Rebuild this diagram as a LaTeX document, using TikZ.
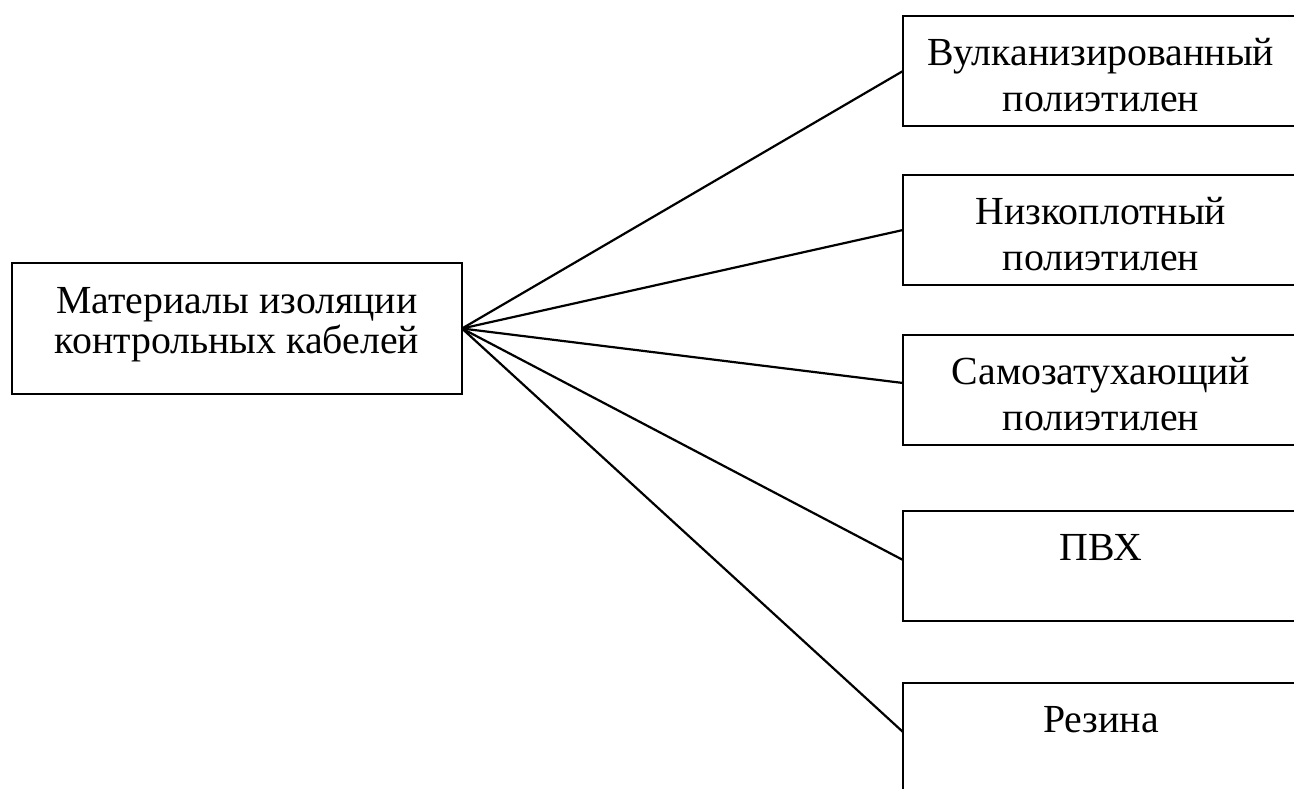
\documentclass[tikz,border=0pt]{standalone}
\usepackage{fontspec}
\setmainfont{Liberation Serif}
\newcommand{\mybox}[6]{\parbox[c][#2pt][t]{#1pt}{\centering\fontsize{39.8}{#4}\selectfont\rule{0pt}{#3pt}#5\\\strut #6}}
\begin{document}
\begin{tikzpicture}[x=1pt,y=-1pt,
  catbox/.style={draw=black,line width=2.6pt,inner sep=0pt,outer sep=0pt,anchor=north west},
  conn/.style={draw=black,line width=2.2pt}]
\useasboundingbox (0,0) rectangle (1294,788);
\clip (0,0) rectangle (1294,788);
\fill[white] (0,0) rectangle (1294,788);
\node[catbox] (main) at (12,263) {\mybox{450}{131}{50}{40}{Материалы изоляции}{контрольных кабелей}};
\node[catbox] (b1) at (903,16) {\mybox{396}{110}{49}{46}{Вулканизированный}{полиэтилен}};
\node[catbox] (b2) at (903,175) {\mybox{396}{110}{49}{46}{Низкоплотный}{полиэтилен}};
\node[catbox] (b3) at (903,335) {\mybox{396}{110}{49}{46}{Самозатухающий}{полиэтилен}};
\node[catbox] (b4) at (903,511) {\mybox{396}{110}{49}{46}{ПВХ}{}};
\node[catbox] (b5) at (903,683) {\mybox{396}{110}{49}{46}{Резина}{}};
\draw[conn] (main.east) -- (b1.west);
\draw[conn] (main.east) -- (b2.west);
\draw[conn] (main.east) -- ([yshift=7pt]b3.west);
\draw[conn] (main.east) -- ([yshift=6pt]b4.west);
\draw[conn] (main.east) -- ([yshift=6pt]b5.west);
\end{tikzpicture}
\end{document}
